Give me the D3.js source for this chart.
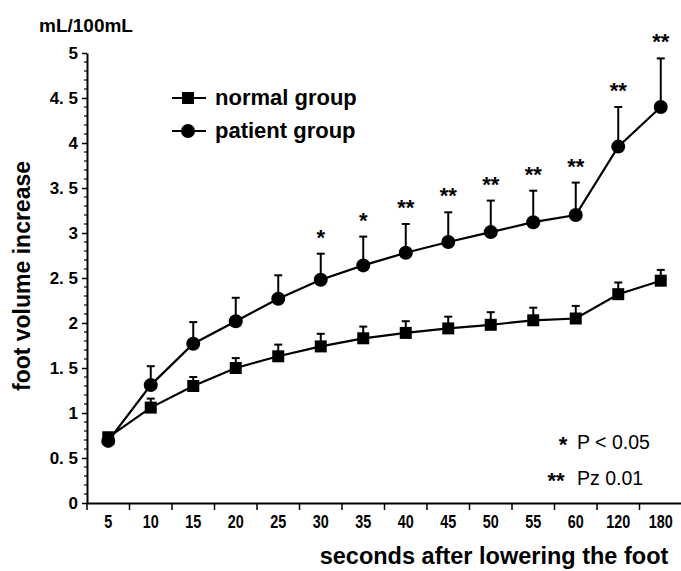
<!DOCTYPE html>
<html><head><meta charset="utf-8">
<script src="https://cdn.jsdelivr.net/npm/d3@7"></script>
<style>
body{margin:0;background:#fff;}
svg{display:block;}
text{font-family:"Liberation Sans",Arial,sans-serif;fill:#000;}
</style></head>
<body>
<svg id="chart" width="681" height="571"></svg>
<script>
const categories = ["5","10","15","20","25","30","35","40","45","50","55","60","120","180"];
const normalMean = [0.73,1.06,1.30,1.50,1.63,1.74,1.83,1.89,1.94,1.98,2.03,2.05,2.32,2.47];
const normalTop  = [0.78,1.16,1.40,1.61,1.76,1.88,1.96,2.02,2.07,2.12,2.17,2.19,2.45,2.59];
const patientMean = [0.69,1.31,1.77,2.02,2.27,2.48,2.64,2.78,2.90,3.01,3.12,3.20,3.96,4.40];
const patientTop  = [0.72,1.52,2.01,2.28,2.53,2.77,2.96,3.10,3.23,3.36,3.47,3.56,4.40,4.94];
const significance = ["","","","","","*","*","**","**","**","**","**","**","**"];
const yTicks = [0,0.5,1,1.5,2,2.5,3,3.5,4,4.5,5];
const yTickLabels = ["0","0. 5","1","1. 5","2","2. 5","3","3. 5","4","4. 5","5"];

const svg = d3.select("#chart");
const x = d3.scaleBand().domain(categories).range([87, 682]).padding(0);
const y = d3.scaleLinear().domain([0,5]).range([503, 53]);

// Y axis
const yAxis = d3.axisLeft(y).tickValues(yTicks).tickSize(5).tickSizeOuter(0)
  .tickFormat((d,i)=>yTickLabels[i]);
const gy = svg.append("g").attr("transform","translate(87,0)").call(yAxis);
gy.select(".domain").attr("stroke","#000").attr("stroke-width",2);
gy.selectAll(".tick line").attr("stroke","#000").attr("stroke-width",1.5);
gy.selectAll(".tick text").attr("font-family","'Liberation Sans',Arial,sans-serif")
  .attr("font-weight","bold").attr("font-size",17).attr("x",-9);
// minor ticks
const minor = d3.range(0,5.001,0.1).filter(v=>Math.abs(v*2-Math.round(v*2))>1e-6);
svg.append("g").selectAll("line").data(minor).join("line")
  .attr("x1",84).attr("x2",87).attr("y1",d=>y(d)).attr("y2",d=>y(d))
  .attr("stroke","#000").attr("stroke-width",1.2);

// X axis
const xAxis = d3.axisBottom(x).tickSize(0).tickSizeOuter(0);
const gx = svg.append("g").attr("transform","translate(0,503)").call(xAxis);
gx.select(".domain").attr("stroke","#000").attr("stroke-width",2);
gx.selectAll(".tick text").attr("font-family","'Liberation Sans',Arial,sans-serif")
  .attr("font-weight","bold").attr("font-size",18).attr("dy","1.2em")
  .attr("transform","scale(0.8,1)");
// band boundary ticks
svg.append("g").selectAll("line").data(categories).join("line")
  .attr("x1",d=>x(d)).attr("x2",d=>x(d)).attr("y1",503).attr("y2",510)
  .attr("stroke","#000").attr("stroke-width",1.5);

const cx = d => x(d) + x.bandwidth()/2;
const line = d3.line().x(d=>cx(d.c)).y(d=>y(d.v));

function drawSeries(mean, top, shape){
  const data = categories.map((c,i)=>({c, v:mean[i], t:top[i]}));
  const g = svg.append("g");
  g.selectAll("line.err").data(data).join("line").attr("class","err")
    .attr("x1",d=>cx(d.c)).attr("x2",d=>cx(d.c)).attr("y1",d=>y(d.v)).attr("y2",d=>y(d.t))
    .attr("stroke","#000").attr("stroke-width",2);
  g.selectAll("line.cap").data(data).join("line").attr("class","cap")
    .attr("x1",d=>cx(d.c)-4).attr("x2",d=>cx(d.c)+4).attr("y1",d=>y(d.t)).attr("y2",d=>y(d.t))
    .attr("stroke","#000").attr("stroke-width",2);
  g.append("path").datum(data).attr("d",line).attr("fill","none").attr("stroke","#000").attr("stroke-width",2.2);
  if(shape==="square"){
    g.selectAll("rect").data(data).join("rect")
      .attr("x",d=>cx(d.c)-6).attr("y",d=>y(d.v)-6).attr("width",12).attr("height",12).attr("fill","#000");
  } else {
    g.selectAll("circle").data(data).join("circle")
      .attr("cx",d=>cx(d.c)).attr("cy",d=>y(d.v)).attr("r",7).attr("fill","#000");
  }
}
drawSeries(normalMean, normalTop, "square");
drawSeries(patientMean, patientTop, "circle");

// significance stars
svg.append("g").selectAll("text").data(categories.map((c,i)=>({c,s:significance[i],t:patientTop[i]})).filter(d=>d.s))
  .join("text").attr("x",d=>cx(d.c)).attr("y",d=>y(d.t)-9).attr("text-anchor","middle")
  .attr("font-size",22).attr("font-weight","bold").text(d=>d.s);

// Legend
const legend = [{label:"normal group",shape:"square"},{label:"patient group",shape:"circle"}];
const lg = svg.append("g");
legend.forEach((L,i)=>{
  const yy = 98 + i*33;
  lg.append("line").attr("x1",172).attr("x2",206).attr("y1",yy).attr("y2",yy).attr("stroke","#000").attr("stroke-width",2);
  if(L.shape==="square") lg.append("rect").attr("x",182).attr("y",yy-6).attr("width",12).attr("height",12).attr("fill","#000");
  else lg.append("circle").attr("cx",188).attr("cy",yy).attr("r",7).attr("fill","#000");
  lg.append("text").attr("x",215).attr("y",yy+7).attr("font-size",22).attr("font-weight","bold").text(L.label);
});

// P legend
svg.append("text").attr("x",563).attr("y",452).attr("font-size",22).attr("font-weight","bold").attr("text-anchor","middle").text("*");
svg.append("text").attr("x",577).attr("y",449).attr("font-size",19.5).text("P < 0.05");
svg.append("text").attr("x",556).attr("y",488).attr("font-size",22).attr("font-weight","bold").attr("text-anchor","middle").text("**");
svg.append("text").attr("x",577).attr("y",485).attr("font-size",19.5).text("Pz 0.01");

// Axis titles
svg.append("text").attr("x",39).attr("y",32).attr("font-size",19).attr("font-weight","bold").text("mL/100mL");
svg.append("text").attr("transform","translate(30,276) rotate(-90)").attr("text-anchor","middle")
  .attr("font-size",23).attr("font-weight","bold").text("foot volume increase");
svg.append("text").attr("x",494).attr("y",564).attr("text-anchor","middle")
  .attr("font-size",23.5).attr("font-weight","bold").text("seconds after lowering the foot");
</script>
</body></html>
